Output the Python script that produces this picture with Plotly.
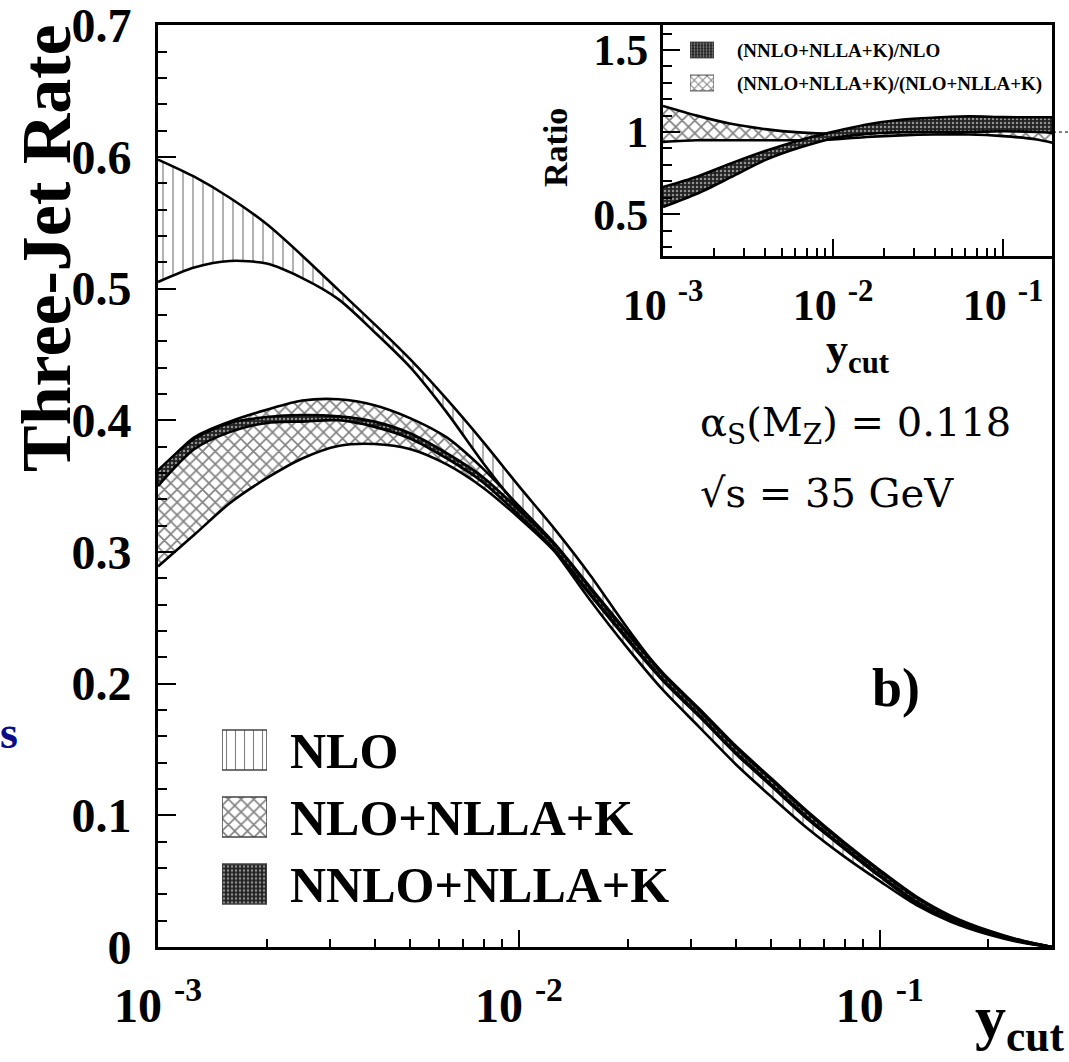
import plotly.graph_objects as go

# ---------------------------------------------------------------- data
# three-jet rate vs y_cut, alpha_s(M_Z)=0.118, sqrt(s)=35 GeV
YCUT = [0.001, 0.00126, 0.00158, 0.002, 0.00251, 0.00316, 0.00398, 0.00501,
        0.00631, 0.00794, 0.01, 0.0126, 0.0158, 0.02, 0.0251, 0.0316, 0.0398,
        0.0501, 0.0631, 0.0794, 0.1, 0.126, 0.158, 0.2, 0.251, 0.30]

NLO_UP = [0.598, 0.585, 0.569, 0.549, 0.525, 0.499, 0.473, 0.446, 0.416, 0.384,
          0.350, 0.317, 0.282, 0.242, 0.207, 0.180, 0.152, 0.126, 0.101, 0.078,
          0.057, 0.037, 0.022, 0.0115, 0.004, 0.0]
NLO_LO = [0.505, 0.516, 0.521, 0.519, 0.508, 0.492, 0.467, 0.440, 0.406, 0.368,
          0.333, 0.300, 0.263, 0.227, 0.195, 0.167, 0.139, 0.114, 0.090, 0.069,
          0.050, 0.032, 0.019, 0.0095, 0.003, 0.0]

NLLA_UP = [0.360, 0.387, 0.399, 0.408, 0.415, 0.416, 0.4115, 0.4015, 0.387, 0.3635,
           0.335, 0.306, 0.273, 0.239, 0.208, 0.181, 0.153, 0.128, 0.103, 0.080,
           0.0585, 0.0385, 0.0235, 0.0125, 0.0045, 0.0]
NLLA_LO = [0.289, 0.313, 0.337, 0.356, 0.371, 0.3805, 0.382, 0.378, 0.3665, 0.349,
           0.326, 0.300, 0.267, 0.233, 0.202, 0.175, 0.147, 0.122, 0.097, 0.075,
           0.0535, 0.0335, 0.0205, 0.0103, 0.0035, 0.0]

NNLO_UP = [0.362, 0.386, 0.398, 0.4025, 0.404, 0.403, 0.399, 0.390, 0.375, 0.357,
           0.332, 0.305, 0.272, 0.238, 0.207, 0.180, 0.152, 0.127, 0.102, 0.079,
           0.0575, 0.0375, 0.0228, 0.0120, 0.0043, 0.0]
NNLO_LO = [0.350, 0.378, 0.391, 0.398, 0.399, 0.400, 0.395, 0.386, 0.371, 0.353,
           0.328, 0.301, 0.268, 0.234, 0.203, 0.176, 0.148, 0.123, 0.098, 0.076,
           0.0545, 0.0345, 0.0212, 0.0108, 0.0037, 0.0]

# ratios shown in the inset
RATIO_YCUT = [0.001, 0.00158, 0.00251, 0.00398, 0.00631, 0.01, 0.0158, 0.0251,
              0.0398, 0.0631, 0.1, 0.158, 0.195]
R_NLO_UP = [0.665, 0.728, 0.809, 0.884, 0.949, 1.001, 1.046, 1.075, 1.088, 1.096,
            1.091, 1.090, 1.090]
R_NLO_LO = [0.543, 0.624, 0.725, 0.829, 0.904, 0.961, 0.989, 0.999, 1.000, 1.000,
            1.005, 1.000, 0.995]
R_NLLA_UP = [1.159, 1.100, 1.050, 1.018, 0.998, 0.990, 0.995, 1.000, 1.000, 1.002,
             1.010, 1.030, 1.045]
R_NLLA_LO = [0.940, 0.950, 0.950, 0.950, 0.950, 0.955, 0.970, 0.980, 0.985, 0.985,
             0.975, 0.955, 0.935]

LEGEND_MAIN = ["NLO", "NLO+NLLA+K", "NNLO+NLLA+K"]
LEGEND_INSET = ["(NNLO+NLLA+K)/NLO", "(NNLO+NLLA+K)/(NLO+NLLA+K)"]

X_TICKS = [1e-3, 1e-2, 1e-1]
X_TICKTEXT = ["10 <sup>-3</sup>", "10 <sup>-2</sup>", "10 <sup>-1</sup>"]
X_MINOR = [m * 10.0 ** e for e in (-3, -2, -1) for m in range(2, 10)]

Y_TICKS = [0, 0.1, 0.2, 0.3, 0.4, 0.5, 0.6, 0.7]
Y_TICKTEXT = ["0", "0.1", "0.2", "0.3", "0.4", "0.5", "0.6", "0.7"]
RATIO_TICKS = [0.5, 1, 1.5]
RATIO_TICKTEXT = ["0.5", "1", "1.5"]

# ---------------------------------------------------------------- layout helpers
W, H = 1069, 1062
L_PX, R_PX, T_PX, B_PX = 158, 1052, 25, 947


def fx(p):
    return (p - L_PX) / (R_PX - L_PX)


def fy(p):
    return (B_PX - p) / (B_PX - T_PX)


SERIF = "Liberation Serif"
BLACK = "black"

PAT_VERT = dict(shape="|", size=10, solidity=0.12, fgcolor=BLACK, bgcolor="rgba(0,0,0,0)")
PAT_CROSS = dict(shape="x", size=9, solidity=0.32, fgcolor=BLACK, bgcolor="rgba(0,0,0,0)")
PAT_DENSE = dict(shape=".", size=4, solidity=0.3, fgcolor="white", bgcolor="#222")


def band(x, lo, up, pattern, xa, ya, width=2.6):
    edge = dict(color=BLACK, width=width, shape="spline", smoothing=0.8)
    lower = go.Scatter(x=x, y=lo, mode="lines", line=edge, xaxis=xa, yaxis=ya,
                       showlegend=False, hoverinfo="skip")
    upper = go.Scatter(x=x, y=up, mode="lines", line=edge, xaxis=xa, yaxis=ya,
                       fill="tonexty", fillcolor="rgba(0,0,0,0)", fillpattern=pattern,
                       showlegend=False, hoverinfo="skip")
    return [lower, upper]


fig = go.Figure()

# main panel bands
for t in band(YCUT, NLO_LO, NLO_UP, PAT_VERT, "x", "y"):
    fig.add_trace(t)
for t in band(YCUT, NLLA_LO, NLLA_UP, PAT_CROSS, "x", "y"):
    fig.add_trace(t)
for t in band(YCUT, NNLO_LO, NNLO_UP, PAT_DENSE, "x", "y"):
    fig.add_trace(t)

# inset ratio bands
for t in band(RATIO_YCUT, R_NLLA_LO, R_NLLA_UP, PAT_CROSS, "x2", "y2"):
    fig.add_trace(t)
for t in band(RATIO_YCUT, R_NLO_LO, R_NLO_UP, PAT_DENSE, "x2", "y2"):
    fig.add_trace(t)

# legend keys as patterned boxes, labels as tick labels of a helper axis
fig.add_trace(go.Bar(
    orientation="h", x=[1] * len(LEGEND_MAIN), y=LEGEND_MAIN, width=0.6,
    xaxis="x3", yaxis="y3", showlegend=False, hoverinfo="skip",
    marker=dict(color="white", line=dict(color="#444", width=1.5),
                pattern=dict(shape=["|", "x", "."], size=[9, 9, 4],
                             solidity=[0.12, 0.32, 0.3],
                             fgcolor=[BLACK, BLACK, "white"],
                             bgcolor=["white", "white", "#222"])),
))
fig.add_trace(go.Bar(
    orientation="h", x=[1] * len(LEGEND_INSET), y=LEGEND_INSET, width=0.48,
    xaxis="x4", yaxis="y4", showlegend=False, hoverinfo="skip",
    marker=dict(color="white", line=dict(color="#444", width=1),
                pattern=dict(shape=[".", "x"], size=[3, 6],
                             solidity=[0.3, 0.3],
                             fgcolor=["white", BLACK],
                             bgcolor=["#222", "white"])),
))

tick_font_main = dict(family=SERIF, size=48, color=BLACK, weight="bold")
tick_font_inset = dict(family=SERIF, size=44, color=BLACK, weight="bold")

frame = dict(showline=True, linewidth=3, linecolor=BLACK, mirror=True,
             showgrid=False, zeroline=False, ticks="inside", tickcolor=BLACK,
             tickwidth=1.5, ticklabeloverflow="allow", automargin=False)

fig.update_layout(
    width=W, height=H, autosize=False,
    margin=dict(l=L_PX, r=W - R_PX, t=T_PX, b=H - B_PX, pad=0, autoexpand=False),
    paper_bgcolor="white", plot_bgcolor="white",
    showlegend=False,
    xaxis=dict(frame, type="log", range=[-3, -0.5229], domain=[0, 1], anchor="y",
               ticklen=17, tickvals=X_TICKS, ticktext=X_TICKTEXT,
               tickfont=tick_font_main, ticklabelstandoff=14,
               minor=dict(ticks="inside", ticklen=8, tickwidth=1.5, tickcolor=BLACK,
                          tickvals=X_MINOR)),
    yaxis=dict(frame, range=[0, 0.7002], domain=[0, 1], anchor="x",
               ticklen=18, tickvals=Y_TICKS, ticktext=Y_TICKTEXT,
               tickfont=tick_font_main, ticklabelstandoff=14,
               minor=dict(ticks="inside", ticklen=9, tickwidth=1.5, tickcolor=BLACK,
                          tick0=0, dtick=0.02)),
    xaxis2=dict(frame, type="log", range=[-3, -0.712], domain=[fx(663), 1.0], anchor="y2",
                ticklen=17, tickvals=X_TICKS, ticktext=X_TICKTEXT,
                tickfont=tick_font_inset, ticklabelstandoff=8,
                minor=dict(ticks="inside", ticklen=8, tickwidth=1.5, tickcolor=BLACK,
                           tickvals=X_MINOR)),
    yaxis2=dict(frame, range=[0.245, 1.652], domain=[fy(256), 1.0], anchor="x2",
                ticklen=17, tickvals=RATIO_TICKS, ticktext=RATIO_TICKTEXT,
                tickfont=tick_font_inset, ticklabelstandoff=3,
                minor=dict(ticks="inside", ticklen=9, tickwidth=1.5, tickcolor=BLACK,
                           tick0=0, dtick=0.1)),
    xaxis3=dict(domain=[fx(222), fx(267)], range=[0, 1], anchor="y3", visible=False,
                fixedrange=True),
    yaxis3=dict(domain=[fy(917.5), fy(716.5)], anchor="x3", side="right",
                type="category", categoryorder="array", categoryarray=LEGEND_MAIN[::-1],
                range=[-0.5, 2.5], showline=False, showgrid=False, zeroline=False,
                ticks="", ticklabelstandoff=22, fixedrange=True, automargin=False,
                tickfont=dict(family=SERIF, size=50, color=BLACK, weight="bold")),
    xaxis4=dict(domain=[fx(690), fx(714)], range=[0, 1], anchor="y4", visible=False,
                fixedrange=True),
    yaxis4=dict(domain=[fy(99.5), fy(33.5)], anchor="x4", side="right",
                type="category", categoryorder="array", categoryarray=LEGEND_INSET[::-1],
                range=[-0.5, 1.5], showline=False, showgrid=False, zeroline=False,
                ticks="", ticklabelstandoff=22, fixedrange=True, automargin=False,
                tickfont=dict(family=SERIF, size=19, color=BLACK, weight="bold")),
)

# reference line at ratio 1 in the inset
fig.add_shape(type="line", xref="paper", yref="y2", x0=fx(663), x1=fx(1069),
              y0=1, y1=1, line=dict(color=BLACK, width=1, dash="dot"), layer="below")


def note(text, xp, yp, size, family=SERIF, angle=0, xanchor="center",
         yanchor="middle", color=BLACK):
    fig.add_annotation(text=text, x=fx(xp), y=fy(yp), xref="paper", yref="paper",
                       showarrow=False, textangle=angle, xanchor=xanchor,
                       yanchor=yanchor, font=dict(family=family, size=size, color=color))


note("<b>Three-Jet Rate</b>", 46, 248, 70, angle=-90)
note("<b>y<sub>cut</sub></b>", 1066, 1062, 62, xanchor="right", yanchor="bottom")
note("<b>y<sub>cut</sub></b>", 858, 352, 44)
note("<b>Ratio</b>", 556, 148, 34, angle=-90)
note("α<sub>S</sub>(M<sub>Z</sub>) = 0.118", 698, 425, 40, family="DejaVu Serif",
     xanchor="left")
note("√s = 35 GeV", 698, 493, 40, family="DejaVu Serif", xanchor="left")
note("<b>b)</b>", 896, 688, 54)
note("<b>s</b>", 9, 732, 46, color="#0b0b8a")

fig.write_html("out.html")
